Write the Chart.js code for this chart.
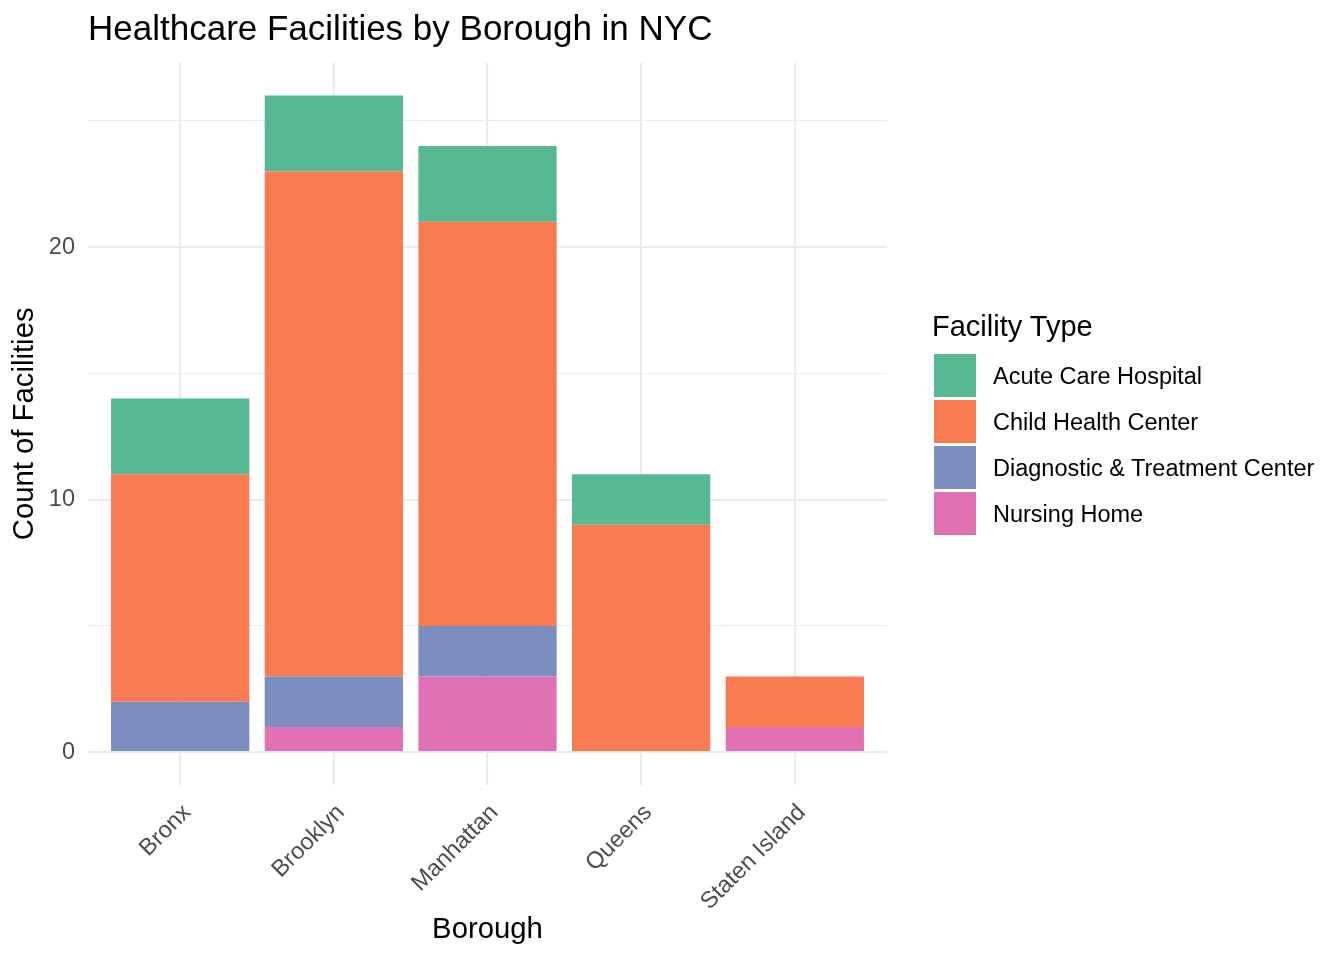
<!DOCTYPE html>
<html>
<head>
<meta charset="utf-8">
<script src="https://cdn.jsdelivr.net/npm/chart.js@4.4.1/dist/chart.umd.min.js"></script>
<style>
  body { margin: 0; background: #fff; font-family: "Liberation Sans", Arial, sans-serif; }
  #wrap { position: relative; width: 1344px; height: 960px; }
  #title { position: absolute; left: 88px; top: 6px; font-size: 35px; line-height: 44px; color: #000; white-space: nowrap; }
  #legend { position: absolute; left: 932px; top: 306px; }
  #legend .lt { font-size: 29px; line-height: 40px; color: #000; margin-bottom: 6px; }
  #legend .item { display: flex; align-items: center; height: 46px; }
  #legend .key { width: 42px; height: 43px; margin-left: 2px; margin-right: 17px; }
  #legend .lab { font-size: 23.5px; color: #000; white-space: nowrap; padding-top: 3px; }
</style>
</head>
<body>
<div id="wrap">
  <canvas id="chart" width="1344" height="960"></canvas>
  <div id="title">Healthcare Facilities by Borough in NYC</div>
  <div id="legend"></div>
</div>
<script>
const boroughs = ['Bronx', 'Brooklyn', 'Manhattan', 'Queens', 'Staten Island'];
const facilityTypes = ['Acute Care Hospital', 'Child Health Center', 'Diagnostic & Treatment Center', 'Nursing Home'];
const acuteCare = [3, 3, 3, 2, 0];
const childHealth = [9, 20, 16, 9, 2];
const diagnostic = [2, 2, 2, 0, 0];
const nursingHome = [0, 1, 3, 0, 1];
const yTicks = [0, 5, 10, 15, 20, 25];
const colors = ['#57B993', '#F97B52', '#7B8EBF', '#E072B4'];

const seriesValues = [acuteCare, childHealth, diagnostic, nursingHome];

// ggplot stacks the first level on top, so draw from the last one up
const datasets = [];
for (let i = facilityTypes.length - 1; i >= 0; i--) {
    datasets.push({
        label: facilityTypes[i],
        data: seriesValues[i].map((v, j) => ({ x: j + 1, y: v })),
        backgroundColor: colors[i],
        borderWidth: 0,
        categoryPercentage: 1,
        barPercentage: 0.9
    });
}

const ctx = document.getElementById('chart').getContext('2d');
const myChart = new Chart(ctx, {
    type: 'bar',
    data: { datasets: datasets },
    options: {
        responsive: false,
        animation: false,
        layout: { padding: { top: 62.7, right: 457, bottom: 0, left: 0 } },
        plugins: { legend: { display: false }, tooltip: { enabled: false } },
        scales: {
            x: {
                type: 'linear',
                stacked: true,
                offset: false,
                min: 0.4,
                max: 5.6,
                afterBuildTicks: s => { s.ticks = boroughs.map((b, i) => ({ value: i + 1 })); },
                afterFit: s => { s.height = 175; },
                border: { display: false },
                grid: { color: '#EBEBEB', lineWidth: 2.1, drawTicks: false, offset: false },
                ticks: {
                    callback: v => boroughs[v - 1],
                    color: '#4D4D4D',
                    font: { family: 'Liberation Sans', size: 23.5 },
                    minRotation: 45,
                    maxRotation: 45,
                    padding: 14,
                    labelOffset: 7,
                    autoSkip: false
                },
                title: {
                    display: true,
                    text: 'Borough',
                    color: '#000',
                    font: { family: 'Liberation Sans', size: 29.3 },
                    padding: { top: 0, bottom: 12.4 }
                }
            },
            y: {
                stacked: true,
                min: -1.3,
                max: 27.3,
                afterBuildTicks: s => { s.ticks = yTicks.map(v => ({ value: v })); },
                afterFit: s => { s.width = 88; },
                border: { display: false },
                grid: {
                    color: '#EBEBEB',
                    lineWidth: c => (c.tick && c.tick.value % 10 === 0 ? 2.1 : 1.05),
                    drawTicks: false
                },
                ticks: {
                    callback: v => (v % 10 === 0 ? String(v) : ''),
                    color: '#4D4D4D',
                    font: { family: 'Liberation Sans', size: 23.5 },
                    padding: 13
                },
                title: {
                    display: true,
                    text: 'Count of Facilities',
                    color: '#000',
                    font: { family: 'Liberation Sans', size: 29.3 },
                    padding: { top: 7.4, bottom: 0 }
                }
            }
        }
    }
});

const legend = document.getElementById('legend');
let html = '<div class="lt">Facility Type</div>';
facilityTypes.forEach((t, i) => {
    html += '<div class="item"><div class="key" style="background:' + colors[i] + '"></div><div class="lab">' +
        t.replace('&', '&amp;') + '</div></div>';
});
legend.innerHTML = html;
</script>
</body>
</html>
